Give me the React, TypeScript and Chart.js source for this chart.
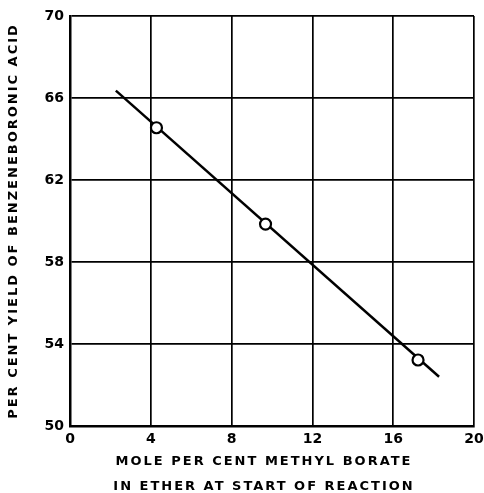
import React, { useEffect, useRef } from "react";
import { Chart, registerables } from "chart.js";

Chart.register(...registerables);

const pointX = [4.28, 9.68, 17.23];
const pointY = [64.55, 59.85, 53.22];
const lineX = [2.27, 18.27];
const lineY = [66.36, 52.4];
const xTitle = ["MOLE PER CENT METHYL BORATE", "IN ETHER AT START OF REACTION"];
const yTitle = "PER CENT YIELD OF BENZENEBORONIC ACID";
const xMin = 0, xMax = 20, xStep = 4;
const yMin = 50, yMax = 70, yStep = 4;

const FONT = "'DejaVu Sans', sans-serif";

function spacedTitle(s: any, shiftX: number) {
  if (s._spacedTitle) return;
  s._spacedTitle = true;
  const orig = s.drawTitle;
  s.drawTitle = function (...args: any[]) {
    const c = this.ctx;
    c.save();
    c.letterSpacing = "2px";
    c.translate(shiftX, 0);
    orig.apply(this, args);
    c.restore();
  };
}

export default function App() {
  const ref = useRef<HTMLCanvasElement>(null);
  useEffect(() => {
    document.body.style.margin = "0";
    const chart = new Chart(ref.current!, {
      type: "scatter",
      data: {
        datasets: [
          {
            type: "line",
            data: lineX.map((x, i) => ({ x, y: lineY[i] })),
            borderColor: "#000",
            borderWidth: 2.5,
            pointRadius: 0,
            fill: false,
            order: 2,
          },
          {
            type: "scatter",
            data: pointX.map((x, i) => ({ x, y: pointY[i] })),
            pointRadius: 5.5,
            pointBorderWidth: 2.2,
            pointBorderColor: "#000",
            pointBackgroundColor: "#fff",
            order: 1,
          },
        ],
      },
      options: {
        animation: false,
        responsive: true,
        maintainAspectRatio: false,
        layout: { padding: { left: 0, top: 16, right: 10, bottom: 0 } },
        plugins: { legend: { display: false }, tooltip: { enabled: false } },
        scales: {
          x: {
            type: "linear",
            min: xMin,
            max: xMax,
            ticks: {
              stepSize: xStep,
              color: "#000",
              font: { family: FONT, size: 14, weight: "bold" },
              padding: 5,
              maxRotation: 0,
            },
            grid: { color: "#000", lineWidth: 1.7, drawTicks: false },
            border: { color: "#000", width: 2.5 },
            title: {
              display: true,
              text: xTitle,
              color: "#000",
              font: { family: FONT, size: 13, weight: "bold", lineHeight: "25px" },
              padding: { top: 0, bottom: -6 },
            },
            afterFit: (s: any) => {
              spacedTitle(s, -8);
              s.paddingRight = 10;
              s.height = 67;
            },
          },
          y: {
            type: "linear",
            min: yMin,
            max: yMax,
            ticks: {
              stepSize: yStep,
              color: "#000",
              font: { family: FONT, size: 14, weight: "bold" },
              padding: 6,
            },
            grid: { color: "#000", lineWidth: 1.7, drawTicks: false },
            border: { color: "#000", width: 2.5 },
            title: {
              display: true,
              text: yTitle,
              color: "#000",
              font: { family: FONT, size: 13, weight: "bold" },
              padding: { top: 6, bottom: 0 },
            },
            afterFit: (s: any) => {
              spacedTitle(s, 0);
              s.width = 70;
              s.paddingTop = 0;
              s.paddingBottom = 0;
            },
          },
        },
      },
    } as any);
    return () => chart.destroy();
  }, []);
  return (
    <div style={{ position: "fixed", left: 0, top: 0, width: 484, height: 493 }}>
      <canvas ref={ref} />
    </div>
  );
}
